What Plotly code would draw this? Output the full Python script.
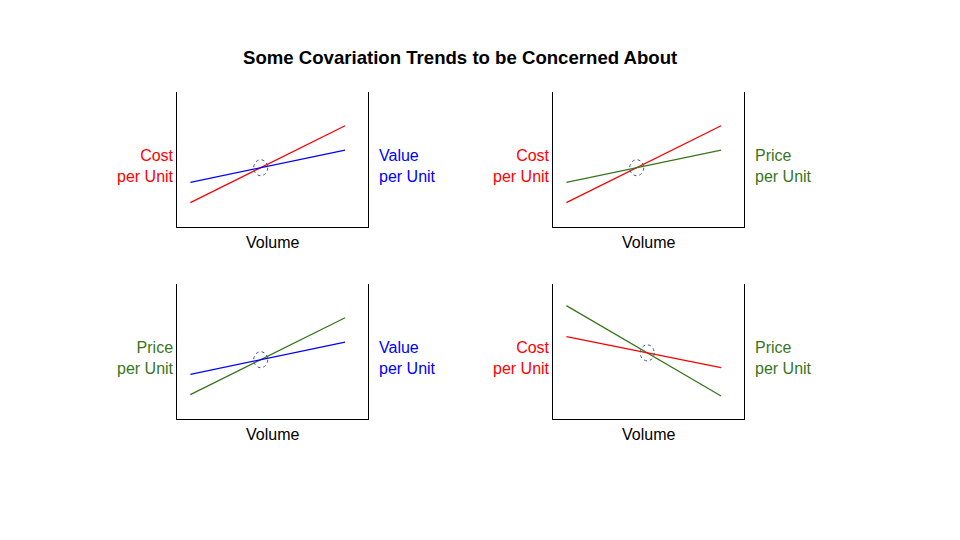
import plotly.graph_objects as go
from plotly.subplots import make_subplots

# line endpoints per panel, in each panel's 0-10 data units
x_ends = [0.7, 8.8]

rise_up_steep = [1.8, 7.5]     # steeper rising line
rise_up_flat = [3.3, 5.7]      # flatter rising line
fall_steep = [8.4, 1.7]        # steeper falling line
fall_flat = [6.1, 3.8]         # flatter falling line

RED = "#ff0000"
BLUE = "#0000ff"
GREEN = "#38761d"

# (steep series, flat series, left label, right label) per panel
panels = [
    dict(steep=(rise_up_steep, RED), flat=(rise_up_flat, BLUE),
         left=("Cost<br>per Unit", RED), right=("Value<br>per Unit", BLUE)),
    dict(steep=(rise_up_steep, RED), flat=(rise_up_flat, GREEN),
         left=("Cost<br>per Unit", RED), right=("Price<br>per Unit", GREEN)),
    dict(steep=(rise_up_steep, GREEN), flat=(rise_up_flat, BLUE),
         left=("Price<br>per Unit", GREEN), right=("Value<br>per Unit", BLUE)),
    dict(steep=(fall_steep, GREEN), flat=(fall_flat, RED),
         left=("Cost<br>per Unit", RED), right=("Price<br>per Unit", GREEN)),
]

title_text = "Some Covariation Trends to be Concerned About"
x_title = "Volume"

FONT = "Liberation Sans, Arial, sans-serif"
W, H = 960, 540
OFF = 8  # page body margin


def px(v):
    return (v - OFF) / W


def py(v):
    return 1 - (v - OFF) / H


x_domains = [[px(177), px(368)], [px(553), px(744)]]
y_domains = [[py(227), py(92)], [py(419), py(284)]]

fig = make_subplots(rows=2, cols=2)

annotations = []
shapes = []
for i, p in enumerate(panels):
    r, c = i // 2 + 1, i % 2 + 1
    steep_y, steep_col = p["steep"]
    flat_y, flat_col = p["flat"]
    fig.add_trace(go.Scatter(x=x_ends, y=steep_y, mode="lines",
                             line=dict(color=steep_col, width=1.3), showlegend=False,
                             hoverinfo="skip"), row=r, col=c)
    fig.add_trace(go.Scatter(x=x_ends, y=flat_y, mode="lines",
                             line=dict(color=flat_col, width=1.3), showlegend=False,
                             hoverinfo="skip"), row=r, col=c)

    # crossing point of the two lines, marked with a dotted circle
    s1 = (steep_y[1] - steep_y[0]) / (x_ends[1] - x_ends[0])
    s2 = (flat_y[1] - flat_y[0]) / (x_ends[1] - x_ends[0])
    dx = (flat_y[0] - steep_y[0]) / (s1 - s2)
    cx = x_ends[0] + dx
    cy = steep_y[0] + s1 * dx
    axn = "" if i == 0 else str(i + 1)
    shapes.append(dict(type="circle", xref="x" + axn, yref="y" + axn,
                       xsizemode="pixel", ysizemode="pixel", xanchor=cx, yanchor=cy,
                       x0=-7, x1=7, y0=-8, y1=8,
                       line=dict(color="#4a5470", width=1, dash="dot")))

    xd = x_domains[c - 1]
    yd = y_domains[r - 1]
    ymid = (yd[0] + yd[1]) / 2 - 6.5 / H
    annotations.append(dict(text=p["left"][0], x=xd[0] - 1 / W, y=ymid, xref="paper", yref="paper",
                            xanchor="right", yanchor="middle", align="right", showarrow=False,
                            font=dict(size=16, color=p["left"][1], family=FONT)))
    annotations.append(dict(text=p["right"][0], x=xd[1] + 9 / W, y=ymid, xref="paper", yref="paper",
                            xanchor="left", yanchor="middle", align="left", showarrow=False,
                            font=dict(size=16, color=p["right"][1], family=FONT)))
    annotations.append(dict(text=x_title, x=(xd[0] + xd[1]) / 2, y=yd[0] - 5 / H, xref="paper", yref="paper",
                            xanchor="center", yanchor="top", showarrow=False,
                            font=dict(size=16, color="#000000", family=FONT)))

    fig.update_xaxes(domain=xd, range=[0, 10], showline=True, linecolor="#000000", linewidth=1,
                     showgrid=False, zeroline=False, showticklabels=False, ticks="",
                     row=r, col=c)
    fig.update_yaxes(domain=yd, range=[0, 10], showline=True, mirror=True, linecolor="#000000",
                     linewidth=1, showgrid=False, zeroline=False, showticklabels=False, ticks="",
                     row=r, col=c)

annotations.append(dict(text="<b>" + title_text + "</b>", x=px(459.5), y=py(58),
                        xref="paper", yref="paper", xanchor="center", yanchor="middle",
                        showarrow=False, font=dict(size=18.6, color="#000000", family=FONT)))

fig.update_layout(
    width=W,
    height=H,
    margin=dict(l=0, r=0, t=0, b=0),
    paper_bgcolor="#ffffff",
    plot_bgcolor="#ffffff",
    annotations=annotations,
    shapes=shapes,
    showlegend=False,
)

fig.write_html("out.html")
